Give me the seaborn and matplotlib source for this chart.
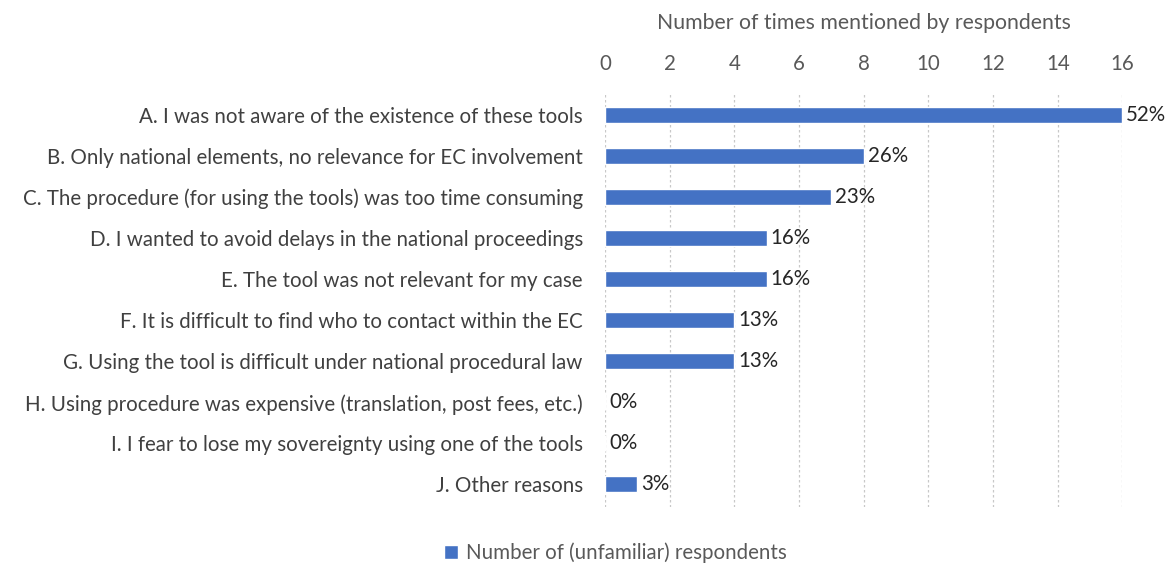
import matplotlib
matplotlib.use('Agg')
import matplotlib.pyplot as plt
import seaborn as sns
import pandas as pd

reasons = [
    'A. I was not aware of the existence of these tools',
    'B. Only national elements, no relevance for EC involvement',
    'C. The procedure (for using the tools) was too time consuming',
    'D. I wanted to avoid delays in the national proceedings',
    'E. The tool was not relevant for my case',
    'F. It is difficult to find who to contact within the EC',
    'G. Using the tool is difficult under national procedural law',
    'H. Using procedure was expensive (translation, post fees, etc.)',
    'I. I fear to lose my sovereignty using one of the tools',
    'J. Other reasons',
]
counts = [16, 8, 7, 5, 5, 4, 4, 0, 0, 1]
pct_labels = ['52%', '26%', '23%', '16%', '16%', '13%', '13%', '0%', '0%', '3%']
x_ticks = [0, 2, 4, 6, 8, 10, 12, 14, 16]

df = pd.DataFrame({'reason': reasons, 'count': counts})

sns.set_theme(style='white')
plt.rcParams['font.family'] = ['Lato', 'DejaVu Sans']

BLUE = '#4472C4'
GREY = '#595959'
FS = 14.8

fig = plt.figure(figsize=(11.68, 5.69), dpi=100)
ax = fig.add_axes([0.518, 0.109, 0.443, 0.729])

sns.barplot(data=df, x='count', y='reason', color=BLUE, width=0.39,
            saturation=1, ax=ax, label='Number of (unfamiliar) respondents')
handles, labels = ax.get_legend_handles_labels()
if ax.get_legend() is not None:
    ax.get_legend().remove()

ax.set_xlim(0, 16)
ax.set_ylim(9.55, -0.55)
ax.set_xticks(x_ticks)
ax.xaxis.tick_top()
ax.xaxis.set_label_position('top')
ax.set_xlabel('Number of times mentioned by respondents', fontsize=FS + 0.5,
              color=GREY, labelpad=18)
ax.set_ylabel('')
ax.tick_params(axis='x', length=0, labelsize=FS, labelcolor=GREY, pad=13)
ax.tick_params(axis='y', length=0, labelsize=FS, labelcolor='#404040', pad=16)

for s in ax.spines.values():
    s.set_visible(False)
ax.grid(axis='x', color='#c8c8c8', linestyle=(0, (2, 2)), linewidth=0.9)
ax.set_axisbelow(True)

for i, (c, lab) in enumerate(zip(counts, pct_labels)):
    ax.text(c + 0.12, i, lab, va='center', ha='left', fontsize=FS,
            color='#262626')

fig.legend(handles, labels, loc='lower center', bbox_to_anchor=(0.527, -0.022),
           frameon=False, fontsize=FS, handlelength=0.7, handleheight=0.7,
           handletextpad=0.4, labelcolor=GREY)

fig.savefig('out.png', dpi=100)
